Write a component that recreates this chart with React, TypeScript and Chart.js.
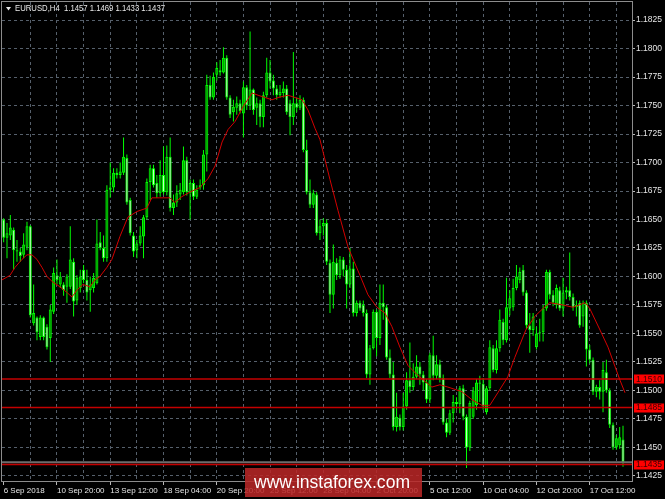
import React, { useEffect, useRef } from 'react';
import { Chart, registerables } from 'chart.js';

Chart.register(...registerables);

// ---- Data (EURUSD H4) ----
const opens = [
  1.1650, 1.1634, 1.1636, 1.1641, 1.1623, 1.1622, 1.1619, 1.1626, 1.1644, 1.1559,
  1.1564, 1.1547, 1.1564, 1.1556, 1.1546, 1.1569, 1.1601, 1.1593, 1.1593, 1.1591,
  1.1591, 1.1613, 1.1579, 1.1590, 1.1606, 1.1597, 1.1588, 1.1590, 1.1594, 1.1630,
  1.1625, 1.1616, 1.1676, 1.1678, 1.1691, 1.1689, 1.1691, 1.1704, 1.1667, 1.1636,
  1.1623, 1.1629, 1.1635, 1.1652, 1.1683, 1.1695, 1.1682, 1.1673, 1.1689, 1.1674,
  1.1705, 1.1660, 1.1665, 1.1672, 1.1674, 1.1702, 1.1673, 1.1682, 1.1670, 1.1678,
  1.1680, 1.1707, 1.1768, 1.1757, 1.1777, 1.1781, 1.1779, 1.1792, 1.1757, 1.1744,
  1.1748, 1.1752, 1.1743, 1.1766, 1.1750, 1.1764, 1.1748, 1.1752, 1.1740, 1.1759,
  1.1779, 1.1772, 1.1765, 1.1759, 1.1761, 1.1765, 1.1752, 1.1740, 1.1752, 1.1748,
  1.1755, 1.1711, 1.1674, 1.1663, 1.1672, 1.1638, 1.1644, 1.1647, 1.1612, 1.1584,
  1.1612, 1.1601, 1.1615, 1.1606, 1.1593, 1.1607, 1.1568, 1.1577, 1.1575, 1.1568,
  1.1514, 1.1537, 1.1569, 1.1546, 1.1577, 1.1573, 1.1529, 1.1514, 1.1468, 1.1476,
  1.1468, 1.1486, 1.1509, 1.1503, 1.1512, 1.1521, 1.1514, 1.1507, 1.1492, 1.1531,
  1.1513, 1.1523, 1.1511, 1.1472, 1.1463, 1.1480, 1.1490, 1.1488, 1.1502, 1.1477,
  1.1450, 1.1477, 1.1487, 1.1507, 1.1506, 1.1481, 1.1502, 1.1537, 1.1518, 1.1537,
  1.1560, 1.1544, 1.1572, 1.1573, 1.1590, 1.1597, 1.1606, 1.1586, 1.1557, 1.1553,
  1.1538, 1.1550, 1.1551, 1.1572, 1.1604, 1.1584, 1.1575, 1.1588, 1.1572, 1.1586,
  1.1588, 1.1582, 1.1573, 1.1577, 1.1565, 1.1577, 1.1536, 1.1527, 1.1499, 1.1503,
  1.1499, 1.1516, 1.1500, 1.1470, 1.1450, 1.1452, 1.1457,
];
const highs = [
  1.1651, 1.1647, 1.1654, 1.1643, 1.1632, 1.1625, 1.1638, 1.1648, 1.1645, 1.1593,
  1.1565, 1.1566, 1.1565, 1.1558, 1.1575, 1.1608, 1.1615, 1.1604, 1.1595, 1.1602,
  1.1644, 1.1616, 1.1601, 1.1606, 1.1610, 1.1606, 1.1600, 1.1603, 1.1650, 1.1639,
  1.1636, 1.1680, 1.1700, 1.1695, 1.1695, 1.1700, 1.1722, 1.1707, 1.1669, 1.1639,
  1.1632, 1.1644, 1.1654, 1.1686, 1.1698, 1.1698, 1.1689, 1.1702, 1.1714, 1.1715,
  1.1722, 1.1672, 1.1680, 1.1682, 1.1714, 1.1705, 1.1685, 1.1685, 1.1680, 1.1685,
  1.1711, 1.1777, 1.1776, 1.1779, 1.1788, 1.1790, 1.1801, 1.1794, 1.1759, 1.1755,
  1.1758, 1.1755, 1.1771, 1.1768, 1.1815, 1.1765, 1.1757, 1.1755, 1.1762, 1.1792,
  1.1790, 1.1777, 1.1768, 1.1768, 1.1771, 1.1768, 1.1755, 1.1797, 1.1757, 1.1759,
  1.1757, 1.1720, 1.1685, 1.1676, 1.1674, 1.1650, 1.1651, 1.1650, 1.1615, 1.1628,
  1.1616, 1.1618, 1.1617, 1.1610, 1.1625, 1.1613, 1.1579, 1.1579, 1.1579, 1.1571,
  1.1540, 1.1571, 1.1571, 1.1593, 1.1593, 1.1575, 1.1536, 1.1525, 1.1498, 1.1479,
  1.1498, 1.1516, 1.1542, 1.1524, 1.1531, 1.1525, 1.1517, 1.1510, 1.1533, 1.1548,
  1.1531, 1.1527, 1.1514, 1.1475, 1.1483, 1.1496, 1.1494, 1.1504, 1.1505, 1.1479,
  1.1491, 1.1503, 1.1510, 1.1513, 1.1511, 1.1504, 1.1544, 1.1540, 1.1544, 1.1571,
  1.1563, 1.1599, 1.1588, 1.1598, 1.1610, 1.1608, 1.1610, 1.1588, 1.1568, 1.1568,
  1.1556, 1.1563, 1.1575, 1.1606, 1.1606, 1.1588, 1.1593, 1.1591, 1.1599, 1.1591,
  1.1621, 1.1585, 1.1579, 1.1579, 1.1579, 1.1579, 1.1540, 1.1529, 1.1505, 1.1509,
  1.1525, 1.1527, 1.1502, 1.1472, 1.1461, 1.1468, 1.1469,
];
const lows = [
  1.1630, 1.1616, 1.1632, 1.1606, 1.1613, 1.1613, 1.1616, 1.1623, 1.1564, 1.1557,
  1.1544, 1.1544, 1.1544, 1.1536, 1.1525, 1.1567, 1.1593, 1.1590, 1.1583, 1.1577,
  1.1589, 1.1565, 1.1575, 1.1586, 1.1594, 1.1579, 1.1569, 1.1586, 1.1593, 1.1623,
  1.1613, 1.1613, 1.1669, 1.1674, 1.1686, 1.1686, 1.1689, 1.1663, 1.1636, 1.1617,
  1.1616, 1.1627, 1.1616, 1.1650, 1.1667, 1.1678, 1.1669, 1.1670, 1.1672, 1.1671,
  1.1657, 1.1654, 1.1661, 1.1667, 1.1672, 1.1671, 1.1650, 1.1667, 1.1668, 1.1676,
  1.1676, 1.1692, 1.1755, 1.1755, 1.1772, 1.1776, 1.1778, 1.1755, 1.1739, 1.1736,
  1.1742, 1.1743, 1.1722, 1.1746, 1.1746, 1.1742, 1.1733, 1.1731, 1.1731, 1.1757,
  1.1765, 1.1759, 1.1755, 1.1757, 1.1757, 1.1742, 1.1724, 1.1733, 1.1744, 1.1746,
  1.1709, 1.1672, 1.1660, 1.1660, 1.1636, 1.1632, 1.1636, 1.1610, 1.1568, 1.1572,
  1.1597, 1.1598, 1.1600, 1.1572, 1.1590, 1.1565, 1.1565, 1.1570, 1.1565, 1.1511,
  1.1505, 1.1536, 1.1530, 1.1540, 1.1562, 1.1527, 1.1511, 1.1465, 1.1464, 1.1465,
  1.1465, 1.1483, 1.1498, 1.1500, 1.1510, 1.1505, 1.1500, 1.1489, 1.1489, 1.1509,
  1.1510, 1.1507, 1.1470, 1.1459, 1.1461, 1.1472, 1.1483, 1.1480, 1.1474, 1.1432,
  1.1447, 1.1475, 1.1483, 1.1490, 1.1483, 1.1479, 1.1500, 1.1516, 1.1515, 1.1534,
  1.1540, 1.1542, 1.1566, 1.1570, 1.1588, 1.1594, 1.1583, 1.1554, 1.1533, 1.1548,
  1.1536, 1.1543, 1.1543, 1.1570, 1.1580, 1.1574, 1.1572, 1.1570, 1.1565, 1.1580,
  1.1579, 1.1570, 1.1565, 1.1555, 1.1556, 1.1521, 1.1524, 1.1496, 1.1494, 1.1492,
  1.1481, 1.1498, 1.1467, 1.1448, 1.1448, 1.1449, 1.1433,
];
const closes = [
  1.1634, 1.1638, 1.1643, 1.1623, 1.1622, 1.1618, 1.1628, 1.1644, 1.1566, 1.1568,
  1.1551, 1.1564, 1.1547, 1.1538, 1.1571, 1.1603, 1.1597, 1.1600, 1.1588, 1.1600,
  1.1615, 1.1578, 1.1599, 1.1600, 1.1597, 1.1586, 1.1593, 1.1599, 1.1629, 1.1625,
  1.1616, 1.1676, 1.1678, 1.1691, 1.1689, 1.1692, 1.1705, 1.1665, 1.1638, 1.1622,
  1.1629, 1.1636, 1.1652, 1.1683, 1.1695, 1.1680, 1.1673, 1.1689, 1.1674, 1.1705,
  1.1660, 1.1665, 1.1673, 1.1676, 1.1702, 1.1674, 1.1682, 1.1670, 1.1676, 1.1680,
  1.1707, 1.1768, 1.1757, 1.1775, 1.1783, 1.1779, 1.1792, 1.1757, 1.1742, 1.1749,
  1.1752, 1.1745, 1.1766, 1.1750, 1.1764, 1.1746, 1.1752, 1.1740, 1.1759, 1.1779,
  1.1771, 1.1765, 1.1759, 1.1762, 1.1765, 1.1744, 1.1740, 1.1752, 1.1748, 1.1755,
  1.1711, 1.1674, 1.1663, 1.1673, 1.1638, 1.1644, 1.1647, 1.1613, 1.1584, 1.1613,
  1.1601, 1.1615, 1.1606, 1.1593, 1.1607, 1.1568, 1.1577, 1.1572, 1.1568, 1.1514,
  1.1537, 1.1569, 1.1546, 1.1577, 1.1573, 1.1529, 1.1514, 1.1468, 1.1477, 1.1468,
  1.1486, 1.1509, 1.1503, 1.1512, 1.1521, 1.1514, 1.1507, 1.1492, 1.1531, 1.1513,
  1.1523, 1.1511, 1.1472, 1.1463, 1.1480, 1.1490, 1.1488, 1.1502, 1.1477, 1.1450,
  1.1489, 1.1500, 1.1507, 1.1506, 1.1486, 1.1502, 1.1538, 1.1518, 1.1537, 1.1562,
  1.1544, 1.1573, 1.1581, 1.1590, 1.1600, 1.1604, 1.1586, 1.1557, 1.1553, 1.1565,
  1.1550, 1.1551, 1.1572, 1.1604, 1.1584, 1.1577, 1.1590, 1.1572, 1.1586, 1.1588,
  1.1582, 1.1573, 1.1575, 1.1557, 1.1577, 1.1536, 1.1527, 1.1499, 1.1503, 1.1499,
  1.1518, 1.1500, 1.1470, 1.1450, 1.1458, 1.1459, 1.1437,
];

// Moving average (red line), sampled along the bar axis
const maBars = [
  -0.5, 1.9, 3.4, 5.5, 7.0, 8.5, 10.0, 11.5, 13.0, 14.8, 16.9, 19.0, 20.5, 22.0, 23.8,
  25.9, 27.4, 28.9, 31.0, 32.5, 34.9, 37.3, 40.0, 43.0, 44.5, 46.9, 49.9, 51.4, 53.5,
  55.9, 58.9, 61.4, 63.5, 65.6, 67.4, 69.5, 71.9, 74.6, 76.4, 78.5, 80.6, 82.4, 85.4,
  87.5, 89.6, 91.4, 93.5, 95.0, 98.0, 100.4, 103.4, 107.0, 109.4, 112.1, 114.5, 116.6,
  119.0, 121.4, 124.1, 128.6, 131.0, 133.4, 137.6, 140.6, 143.6, 146.0, 148.4, 151.4,
  153.5, 156.8, 159.5, 162.0, 164.0, 168.0, 171.0, 174.6, 176.0, 179.1, 181.5, 183.6,
  185.1, 186.6,
];
const maValues = [
  1.1597, 1.1601, 1.1608, 1.1615, 1.1619, 1.1619, 1.1615, 1.1608, 1.1600, 1.1595, 1.1591,
  1.1586, 1.1582, 1.1588, 1.1593, 1.1591, 1.1597, 1.1600, 1.1608, 1.1615, 1.1635, 1.1652,
  1.1657, 1.1660, 1.1669, 1.1669, 1.1669, 1.1665, 1.1670, 1.1674, 1.1678, 1.1686, 1.1697,
  1.1718, 1.1729, 1.1736, 1.1749, 1.1761, 1.1759, 1.1757, 1.1755, 1.1757, 1.1759, 1.1757,
  1.1755, 1.1746, 1.1730, 1.1720, 1.1685, 1.1658, 1.1626, 1.1601, 1.1584, 1.1573, 1.1568,
  1.1556, 1.1538, 1.1522, 1.1514, 1.1503, 1.1505, 1.1503, 1.1499, 1.1492, 1.1487, 1.1487,
  1.1498, 1.1512, 1.1529, 1.1553, 1.1565, 1.1572, 1.1577, 1.1575, 1.1573, 1.1577, 1.1572,
  1.1553, 1.1538, 1.1521, 1.1509, 1.1498,
];

const levelLines = [1.1510, 1.1485, 1.1435];
const bidPrice = 1.1437;

const yTicks = [
  1.1425, 1.1450, 1.1475, 1.1500, 1.1525, 1.1550, 1.1575, 1.1600, 1.1625,
  1.1650, 1.1675, 1.1700, 1.1725, 1.1750, 1.1775, 1.1800, 1.1825,
];
const xLabels = [
  '6 Sep 2018', '10 Sep 20:00', '13 Sep 12:00', '18 Sep 04:00', '20 Sep 20:00', '25 Sep 12:00',
  '28 Sep 04:00', '2 Oct 20:00', '5 Oct 12:00', '10 Oct 04:00', '12 Oct 20:00', '17 Oct 12:00',
];
const xLabelBars = [0, 16, 32, 48, 64, 80, 96, 112, 128, 144, 160, 176];
const xGridBars = [0, 8, 16, 24, 32, 40, 48, 56, 64, 72, 80, 88, 96, 104, 112, 120, 128, 136, 144, 152, 160, 168, 176, 184];

const symbolName = 'EURUSD,H4';
const watermarkText = 'www.instaforex.com';

const X_MIN = -0.5;
const X_MAX = 188.7;
const Y_MIN = 1.14206;
const Y_MAX = 1.18408;

const FONT = '"Liberation Sans", Arial, sans-serif';
const GRID = '#56606c';
const WICK = '#00ff00';
const BULL_FILL = '#00a000';
const BEAR_FILL = '#c4ffc4';
const LEVEL_RED = '#c40000';

const overlayPlugin = {
  id: 'mtOverlay',
  beforeDraw(chart: any) {
    const { ctx, width, height } = chart;
    ctx.save();
    ctx.fillStyle = '#000000';
    ctx.fillRect(0, 0, width, height);
    ctx.restore();
  },
  afterDraw(chart: any) {
    const { ctx, chartArea: a, scales } = chart;
    const ys = scales.y;
    ctx.save();
    // frame
    ctx.strokeStyle = '#8c8c8c';
    ctx.lineWidth = 1;
    ctx.strokeRect(a.left - 0.5, a.top - 0.5, a.right - a.left + 1, a.bottom - a.top + 1);

    // level labels
    ctx.font = `8.5px ${FONT}`;
    ctx.textBaseline = 'middle';
    ctx.textAlign = 'left';
    levelLines.forEach((v) => {
      const py = ys.getPixelForValue(v);
      ctx.fillStyle = '#ff0000';
      ctx.fillRect(a.right + 2, Math.round(py) - 4.5, 30, 9);
      ctx.fillStyle = '#3a0000';
      ctx.fillText(v.toFixed(4), a.right + 4, py + 0.5);
    });

    // header
    const last = opens.length - 1;
    ctx.fillStyle = '#e8e8e8';
    ctx.beginPath();
    ctx.moveTo(6, 7);
    ctx.lineTo(11, 7);
    ctx.lineTo(8.5, 10.5);
    ctx.closePath();
    ctx.fill();
    ctx.font = `8.5px ${FONT}`;
    ctx.textBaseline = 'middle';
    const header = `${symbolName}  ${opens[last].toFixed(4)} ${highs[last].toFixed(4)} ${lows[last].toFixed(4)} ${closes[last].toFixed(4)}`;
    ctx.fillText(header, 15, 9, 150);

    // watermark
    ctx.fillStyle = 'rgba(186, 38, 38, 0.86)';
    ctx.fillRect(245, 468, 177, 29);
    ctx.fillStyle = '#ffffff';
    ctx.font = `19px ${FONT}`;
    ctx.textAlign = 'center';
    ctx.textBaseline = 'middle';
    ctx.fillText(watermarkText, 332, 483, 156);
    ctx.restore();
  },
};

const zeroPadding = (s: any) => {
  s.paddingTop = 0;
  s.paddingBottom = 0;
  s.paddingLeft = 0;
  s.paddingRight = 0;
};

export default function App() {
  const ref = useRef<HTMLCanvasElement | null>(null);

  useEffect(() => {
    if (!ref.current) return;
    const bodies = opens.map((o, i) => ({ x: i, y: [o, closes[i]] }));
    const wicks = lows.map((l, i) => ({ x: i, y: [l, highs[i]] }));
    const bodyColors = opens.map((o, i) => (closes[i] >= o ? BULL_FILL : BEAR_FILL));

    const datasets: any[] = [
      {
        type: 'line',
        data: maBars.map((b, i) => ({ x: b, y: maValues[i] })),
        borderColor: '#d40000',
        borderWidth: 1,
        pointRadius: 0,
        tension: 0,
        order: 0,
      },
      ...levelLines.map((v) => ({
        type: 'line',
        data: [{ x: X_MIN, y: v }, { x: X_MAX, y: v }],
        borderColor: LEVEL_RED,
        borderWidth: 1.5,
        pointRadius: 0,
        order: 1,
      })),
      {
        type: 'line',
        data: [{ x: X_MIN, y: bidPrice }, { x: X_MAX, y: bidPrice }],
        borderColor: '#6c6c6c',
        borderWidth: 2,
        pointRadius: 0,
        order: 1.5,
      },
      {
        type: 'bar',
        data: bodies,
        backgroundColor: bodyColors,
        borderColor: WICK,
        borderWidth: 1,
        borderSkipped: false,
        barThickness: 3,
        minBarLength: 1,
        grouped: false,
        inflateAmount: 0,
        order: 2,
      },
      {
        type: 'bar',
        data: wicks,
        backgroundColor: WICK,
        borderWidth: 0,
        barThickness: 1,
        grouped: false,
        inflateAmount: 0,
        order: 3,
      },
    ];

    const chart = new Chart(ref.current, {
      type: 'bar',
      data: { datasets },
      options: {
        responsive: false,
        animation: false,
        events: [],
        layout: { padding: { left: 2, top: 2, right: 0, bottom: 0 } },
        plugins: {
          legend: { display: false },
          tooltip: { enabled: false },
          title: { display: false },
        },
        scales: {
          x: {
            type: 'linear',
            min: X_MIN,
            max: X_MAX,
            offset: false,
            afterBuildTicks: (s: any) => {
              s.ticks = xGridBars.map((v) => ({ value: v }));
            },
            afterFit: (s: any) => {
              s.height = 18;
              zeroPadding(s);
            },
            grid: {
              offset: false,
              color: (c: any) => (c.tick && c.tick.value === 0 ? 'rgba(0,0,0,0)' : GRID),
              lineWidth: 1,
              drawTicks: true,
              tickLength: 4,
              tickWidth: 1,
              tickColor: (c: any) =>
                c.tick && xLabelBars.indexOf(c.tick.value) >= 0 ? '#b8b8b8' : 'rgba(0,0,0,0)',
            },
            border: { display: false, dash: [3, 3] },
            ticks: {
              autoSkip: false,
              maxRotation: 0,
              minRotation: 0,
              align: 'start',
              padding: 1,
              color: '#e6e6e6',
              font: { family: FONT, size: 8 },
              callback: (v: any) => {
                const k = xLabelBars.indexOf(Number(v));
                return k >= 0 ? xLabels[k] : '';
              },
            },
          },
          y: {
            type: 'linear',
            position: 'right',
            min: Y_MIN,
            max: Y_MAX,
            beginAtZero: false,
            afterBuildTicks: (s: any) => {
              s.ticks = yTicks.map((v) => ({ value: v }));
            },
            afterFit: (s: any) => {
              s.width = 33;
              zeroPadding(s);
            },
            grid: {
              color: GRID,
              lineWidth: 1,
              drawTicks: true,
              tickLength: 3,
              tickWidth: 1,
              tickColor: '#b8b8b8',
            },
            border: { display: false, dash: [3, 3] },
            ticks: {
              padding: 1,
              color: '#e6e6e6',
              font: { family: FONT, size: 8.5 },
              callback: (v: any) => Number(v).toFixed(4),
            },
          },
        },
      } as any,
      plugins: [overlayPlugin],
    });
    return () => chart.destroy();
  }, []);

  return (
    <div style={{ position: 'fixed', left: 0, top: 0, width: 665, height: 499, background: '#000' }}>
      <canvas ref={ref} width={665} height={499} style={{ display: 'block' }} />
    </div>
  );
}
